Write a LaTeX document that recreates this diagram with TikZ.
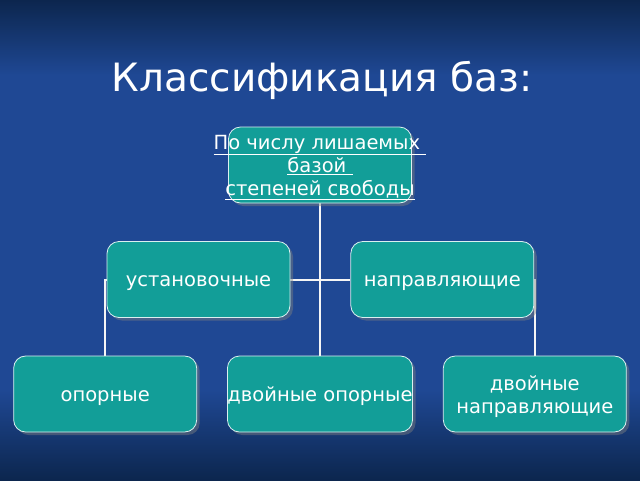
\documentclass[tikz,border=0pt]{standalone}
\usepackage{fontspec}
\setmainfont{DejaVu Sans}
\usetikzlibrary{positioning,shadows,backgrounds}

\definecolor{bgdark}{RGB}{12,38,78}
\definecolor{bgblue}{RGB}{31,72,148}
\definecolor{boxteal}{RGB}{18,158,152}

\begin{document}
\begin{tikzpicture}[x=1pt, y=-1pt,
    box/.style={rectangle, rounded corners=12pt, draw=white!85!boxteal, line width=0.8pt,
        fill=boxteal, minimum width=183pt, minimum height=76pt, inner sep=0pt,
        align=center, text=white, font=\fontsize{19.5}{23}\selectfont,
        drop shadow={shadow xshift=3pt, shadow yshift=-3pt, opacity=0.45}},
    oneline/.style={text height=18pt, text depth=4pt},
    link/.style={draw=white!92!gray, line width=2pt}]
    \useasboundingbox (0,0) rectangle (640,480);

    \node[text=white, font=\fontsize{39}{42}\selectfont] (title) at (322,80) {Классификация баз:};

    \node[box] (top) at (320,165) {\rule{0pt}{19pt}\makebox[0pt]{\underline{По числу лишаемых\ }}\\
        \makebox[0pt]{\underline{базой\ }}\\ \makebox[0pt]{\underline{степеней свободы}}};
    \node[box, oneline] (ust) at (198.5,279.5) {установочные};
    \node[box, oneline, right=60pt of ust] (napr) {направляющие};
    \node[box, oneline] (dopor) at (320,394) {двойные опорные};
    \node[box, oneline, left=30pt of dopor] (opor) {опорные};
    \node[box, right=30pt of dopor] (dnapr) {\rule{0pt}{21pt}двойные\\ направляющие};

    \begin{scope}[on background layer]
        % background
        \fill[bgblue] (0,0) rectangle (640,480);
        \fill[top color=bgdark, bottom color=bgblue] (0,0) rectangle (640,75);
        \fill[top color=bgblue, bottom color=bgdark] (0,390) rectangle (640,480);
        % links
        \draw[link] (top) -- (dopor);
        \draw[link] (ust) -- (napr);
        \draw[link] (ust.west) -| (opor.north);
        \draw[link] (napr.east) -| (dnapr.north);
    \end{scope}
\end{tikzpicture}
\end{document}
